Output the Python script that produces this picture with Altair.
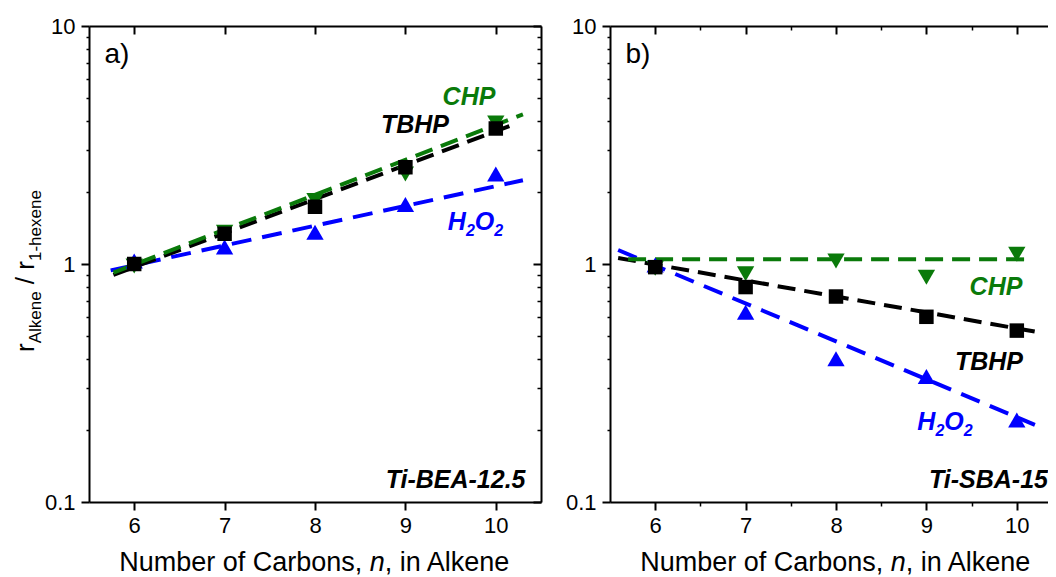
import altair as alt
import pandas as pd

FONT = "Liberation Sans"
GREEN = "#0a7a0a"
BLUE = "#0000ff"
BLACK = "#000000"

# ---------------- data ----------------
n_carbons = [6, 7, 8, 9, 10]
series_names = ["H2O2", "TBHP", "CHP"]

# panel a) Ti-BEA-12.5
a_tbhp = [1.00, 1.34, 1.74, 2.55, 3.71]
a_chp = [0.98, 1.36, 1.85, 2.39, 3.91]
a_h2o2 = [1.03, 1.18, 1.36, 1.78, 2.39]
# dashed fit lines (end points)
a_fit_x = {"H2O2": [5.74, 10.30], "TBHP": [5.77, 10.15], "CHP": [5.77, 10.30]}
a_fit_y = {"H2O2": [0.94, 2.25], "TBHP": [0.90, 3.80], "CHP": [0.92, 4.25]}

# panel b) Ti-SBA-15
b_tbhp = [0.97, 0.80, 0.73, 0.60, 0.525]
b_chp = [0.96, 0.91, 1.03, 0.88, 1.10]
b_h2o2 = [0.99, 0.627, 0.40, 0.337, 0.221]
b_fit_x = {"H2O2": [5.59, 10.20], "TBHP": [5.59, 10.20], "CHP": [5.70, 10.15]}
b_fit_y = {"H2O2": [1.145, 0.211], "TBHP": [1.06, 0.52], "CHP": [1.046, 1.046]}

y_major = [0.1, 1, 10]
y_minor = [0.2, 0.3, 0.4, 0.5, 0.6, 0.7, 0.8, 0.9, 2, 3, 4, 5, 6, 7, 8, 9]
x_minor = [6.5, 7.5, 8.5, 9.5]

STYLE = {
    "TBHP": dict(color=BLACK, shape="square", size=210, dash=[18, 9]),
    "CHP": dict(color=GREEN, shape="triangle-down", size=300, dash=[18, 9]),
    "H2O2": dict(color=BLUE, shape="triangle-up", size=300, dash=[20, 11]),
}

PLOT_H = 476
one = pd.DataFrame({"k": [0]})


def points_df(tbhp, chp, h2o2):
    rows = []
    for s, vals in zip(["TBHP", "CHP", "H2O2"], [tbhp, chp, h2o2]):
        for n, v in zip(n_carbons, vals):
            rows.append({"n": n, "r": v, "series": s})
    return pd.DataFrame(rows)


def fit_df(fx, fy):
    rows = []
    for s in series_names:
        for xv, yv in zip(fx[s], fy[s]):
            rows.append({"n": xv, "r": yv, "series": s})
    return pd.DataFrame(rows)


def ax(**kw):
    base = dict(grid=False, title=None, domain=False, labels=False, ticks=True,
                tickColor=BLACK, tickWidth=2, domainColor=BLACK, domainWidth=2,
                labelFont=FONT, labelFontSize=22, labelColor=BLACK)
    base.update(kw)
    return alt.Axis(**base)


def text_layer(txt, x, y, size, color=BLACK, bold=False, italic=False,
               align="left", angle=0):
    return alt.Chart(one).mark_text(
        text=txt, font=FONT, fontSize=size, color=color,
        fontWeight="bold" if bold else "normal",
        fontStyle="italic" if italic else "normal",
        align=align, baseline="alphabetic", angle=angle,
    ).encode(x=alt.value(x), y=alt.value(y))


def label_h2o2(cx, y, size=25):
    # H, subscript 2, O, subscript 2 (bold italic)
    sub = round(size * 0.64)
    w_h, w_o, w_2 = 0.722 * size, 0.778 * size, 0.556 * sub
    total = w_h + w_o + 2 * w_2
    x0 = cx - total / 2
    return [
        text_layer("H", x0, y, size, BLUE, True, True),
        text_layer("2", x0 + w_h, y + 6, sub, BLUE, True, True),
        text_layer("O", x0 + w_h + w_2, y, size, BLUE, True, True),
        text_layer("2", x0 + w_h + w_2 + w_o, y + 6, sub, BLUE, True, True),
    ]


def make_panel(pts, fits, xmax, width, letter, sample, lab_pos, right_frame,
               minor_x, ytitle):
    xs = alt.Scale(domain=[5.5, xmax], nice=False, zero=False)
    ys = alt.Scale(type="log", domain=[0.1, 10], nice=False)

    def axis_layer(xaxis=None, yaxis=None):
        return alt.Chart(pts).mark_point(opacity=0).encode(
            x=alt.X("n:Q", scale=xs, axis=xaxis),
            y=alt.Y("r:Q", scale=ys, axis=yaxis),
        )

    layers = []
    layers.append(axis_layer(
        ax(orient="bottom", values=n_carbons, tickSize=8, domain=True,
           labels=True, labelPadding=5, labelFlush=False),
        ax(orient="left", values=y_major, tickSize=8, domain=True,
           labels=True, labelPadding=6, format=".1~f", labelFlush=False),
    ))
    layers.append(axis_layer(
        ax(orient="top", values=n_carbons, tickSize=8, offset=-8),
        ax(orient="left", values=y_minor, tickSize=3, tickWidth=1.5),
    ))
    layers.append(axis_layer(ax(orient="top", ticks=False, domain=True), None))
    if minor_x:
        layers.append(axis_layer(
            ax(orient="bottom", values=x_minor, tickSize=4, tickWidth=1.5),
            None))
        layers.append(axis_layer(
            ax(orient="top", values=x_minor, tickSize=4, offset=-4, tickWidth=1.5),
            None))
    if right_frame:
        layers.append(axis_layer(
            None, ax(orient="right", values=y_major, tickSize=8, offset=-8)))
        layers.append(axis_layer(
            None, ax(orient="right", values=y_minor, tickSize=4, offset=-4,
                     tickWidth=1.5)))
        layers.append(axis_layer(
            None, ax(orient="right", ticks=False, domain=True)))

    # fitted dashed lines
    for s in series_names:
        st = STYLE[s]
        layers.append(
            alt.Chart(fits[fits.series == s]).mark_line(
                color=st["color"], strokeWidth=4, strokeDash=st["dash"]
            ).encode(
                x=alt.X("n:Q", scale=xs, axis=None),
                y=alt.Y("r:Q", scale=ys, axis=None),
            )
        )
    # markers
    for s in ["CHP", "H2O2", "TBHP"]:
        st = STYLE[s]
        layers.append(
            alt.Chart(pts[pts.series == s]).mark_point(
                shape=st["shape"], filled=True, size=st["size"],
                color=st["color"], opacity=1
            ).encode(
                x=alt.X("n:Q", scale=xs, axis=None),
                y=alt.Y("r:Q", scale=ys, axis=None),
            )
        )

    # annotations
    layers.append(text_layer(letter, 15.5, 37, 28))
    layers.append(text_layer("CHP", lab_pos["CHP"][0], lab_pos["CHP"][1], 25,
                             GREEN, True, True, "center"))
    layers.append(text_layer("TBHP", lab_pos["TBHP"][0], lab_pos["TBHP"][1], 25,
                             BLACK, True, True, "center"))
    layers += label_h2o2(lab_pos["H2O2"][0], lab_pos["H2O2"][1])
    layers.append(text_layer(sample, lab_pos["sample"][0], lab_pos["sample"][1],
                             25, BLACK, True, True, "right"))

    # x-axis title: "Number of Carbons, n, in Alkene" (n in italics)
    fs = 27
    w1 = 9.281 * fs
    wn = 0.556 * fs
    w3 = 4.669 * fs
    x0 = width_center - (w1 + wn + w3) / 2
    ty = PLOT_H + 69
    layers.append(text_layer("Number of Carbons, ", x0, ty, fs))
    layers.append(text_layer("n", x0 + w1, ty, fs, italic=True))
    layers.append(text_layer(", in Alkene", x0 + w1 + wn, ty, fs))

    if ytitle:
        # r_Alkene / r_1-hexene, rotated
        big, small = 26, 17
        xb, xsub = -55.5, -48.5
        y0 = 326
        w_r = 0.333 * big
        w_alk = 3.057 * small
        w_sp = 0.278 * big
        w_sl = 0.278 * big
        layers.append(text_layer("r", xb, y0, big, angle=270))
        layers.append(text_layer("Alkene", xsub, y0 - w_r, small, angle=270))
        y1 = y0 - w_r - w_alk - w_sp
        layers.append(text_layer("/", xb, y1, big, angle=270))
        y2 = y1 - w_sl - w_sp
        layers.append(text_layer("r", xb, y2, big, angle=270))
        layers.append(text_layer("1-hexene", xsub, y2 - w_r, small, angle=270))

    return alt.layer(*layers).properties(width=width, height=PLOT_H).resolve_axis(
        x="independent", y="independent")


width_center = 226

pts_a = points_df(a_tbhp, a_chp, a_h2o2)
fit_a = fit_df(a_fit_x, a_fit_y)
pts_b = points_df(b_tbhp, b_chp, b_h2o2)
fit_b = fit_df(b_fit_x, b_fit_y)

panel_a = make_panel(
    pts_a, fit_a, 10.5, 452, "a)", "Ti-BEA-12.5",
    {"CHP": (380, 79), "TBHP": (326, 107), "H2O2": (386.5, 204),
     "sample": (436.5, 462)},
    right_frame=True, minor_x=False, ytitle=True)

panel_b = make_panel(
    pts_b, fit_b, 10.345, 438, "b)", "Ti-SBA-15",
    {"CHP": (386, 269), "TBHP": (379, 344), "H2O2": (335, 404),
     "sample": (438, 462)},
    right_frame=False, minor_x=True, ytitle=False)

chart = alt.hconcat(panel_a, panel_b, spacing=23).properties(
    padding={"left": 4, "top": 7, "right": 0, "bottom": 0}
).configure_view(strokeWidth=0)

chart.save("out.html", embed_options={"renderer": "svg", "actions": False})
